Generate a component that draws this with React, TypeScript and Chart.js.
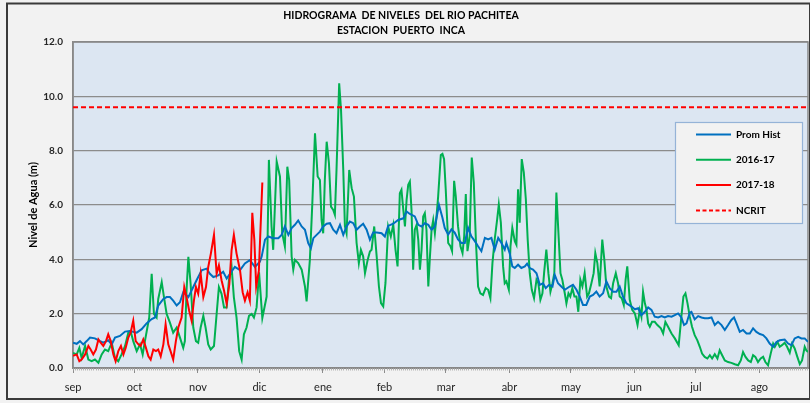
import { useEffect, useRef } from 'react';
import { Chart, registerables } from 'chart.js';

Chart.register(...registerables);

const chartTitle = ['HIDROGRAMA  DE NIVELES  DEL RIO PACHITEA', 'ESTACION  PUERTO  INCA'];
const yAxisTitle = 'Nivel de Agua (m)';
const monthTicks = [0, 30, 61, 91, 122, 152, 182, 213, 243, 274, 304, 335];
const monthLabels = ['sep', 'oct', 'nov', 'dic', 'ene', 'feb', 'mar', 'abr', 'may', 'jun', 'jul', 'ago'];
const lastDay = 358.7;
const ncritLevel = 9.6;

const promDays = [0,1.8,3.4,5,6.7,8.3,10.7,13.2,14.8,17.2,18.9,20.5,22.9,25.4,27.8,31.1,33.5,35.9,38.4,40,41.6,44.1,45.7,47.3,48.9,50.6,52.2,53.8,56.3,58.7,60.3,62.8,65.2,66.8,68.5,70.9,73.3,75,76.6,79,81.5,83.9,86.3,88.8,91.2,92.1,93.7,95.3,97.7,100.2,101.8,103.4,105.1,106.7,108.3,109.9,111.6,113.2,114.8,116.1,117.3,118.9,120.5,122.1,123.8,125.4,127,128.6,130.3,131.9,133.5,135.1,136.8,138.4,140,141.6,143.3,144.9,146.5,148.2,150.6,152.2,153.8,156.3,158.7,161.2,162.8,164.4,166.8,168.5,170.1,171.7,173.4,175,176.6,178.6,180.3,181.4,183.1,184.7,186.3,187.9,189.6,191.2,192.8,194.4,196.1,197.7,199.3,201,202.6,204.2,205.8,207.5,209.1,210.7,211.5,213.1,214.4,215.6,217.2,218.8,220.5,221.6,222.9,224.5,226.2,227.8,229.4,230.7,232.3,234,235.1,236.7,238.3,240,242.4,244,245.7,247.3,248.9,250.5,252.2,253.8,255.4,257,258.7,260.3,261.9,263.6,265.2,266.8,268.4,270.1,272.6,274.2,275.8,277.4,279.1,280.7,282.3,283.9,285.6,287.2,288.8,290.4,292.1,293.7,295.3,296.9,298.2,299.4,301,301.8,303.4,305.1,306.7,308.3,310,311.6,313.2,314.8,316.5,318.1,319.7,321.3,322.6,323.8,325.4,327,328.7,330.3,331.9,333.5,335.2,336.8,338.4,340,341.7,343.3,344.9,347.3,349,350.6,352.2,353.9,355.5,357.1,358.7];
const promVals = [0.93,0.89,0.99,0.87,0.99,1.12,1.09,0.99,0.93,1.02,0.87,1.12,1.18,1.34,1.36,1.30,1.43,1.64,1.80,1.86,2.30,2.54,2.61,2.61,2.48,2.30,2.42,2.79,2.61,2.98,3.23,3.60,3.66,3.47,3.35,3.41,3.54,3.29,3.47,3.72,3.60,3.85,3.97,3.72,3.91,4.11,4.72,4.84,4.78,4.78,4.90,5.21,4.90,5.15,5.27,5.43,5.21,5.09,4.60,4.41,4.78,4.90,5.02,5.21,5.31,5.33,5.09,4.96,5.27,4.90,5.21,5.39,5.33,5.09,5.21,5.31,5.09,4.72,4.99,4.99,4.96,4.84,5.23,5.31,5.45,5.51,5.76,5.67,5.58,5.27,5.21,5.33,5.27,5.09,5.21,6.00,5.53,5.16,4.91,5.10,4.98,4.73,4.60,4.60,5.16,4.85,4.67,4.48,4.30,4.79,4.73,4.79,4.36,4.79,4.60,4.36,4.60,4.23,3.74,3.68,3.80,3.68,3.74,3.84,3.68,3.62,3.49,3.06,3.12,2.94,3.06,3.00,3.43,3.12,3.00,2.88,3.00,3.06,2.88,2.63,2.32,2.32,2.63,2.69,2.81,2.63,2.75,3.19,2.94,2.81,2.81,3.00,2.63,2.38,2.26,2.16,2.20,1.95,2.07,2.23,2.14,1.89,1.86,1.91,1.86,1.91,1.89,1.95,2.01,1.86,1.58,1.64,2.04,2.07,1.79,1.91,1.86,1.83,1.83,1.86,1.58,1.70,1.58,1.40,1.58,1.77,1.86,1.64,1.33,1.40,1.27,1.27,1.46,1.33,1.25,1.21,1.09,0.90,0.78,0.96,1.02,1.05,0.90,0.84,1.09,1.15,1.09,1.09,0.96];

const s1617Days = [0,1.8,3.1,4.2,5.9,7.5,9.1,10.7,12.4,14,15.6,17.2,18.9,20.5,22.1,23.7,25.4,27,28.1,29.4,31.1,32.7,34,35.1,36.3,37.2,38.4,39.5,40.8,41.6,43.3,44.4,45.7,47.3,48.9,50.6,52.2,53.8,54.6,55.4,56.3,57.4,58.7,60,61.1,62.3,63.6,64.7,66,67.2,68.8,70.1,71.2,72.5,73.7,75,76.1,77.4,78.5,79.8,81.1,82.3,83.4,84.7,85.9,87.2,88.3,89.6,90.8,92.4,94.5,95.6,96.9,97.7,99.4,101,102.1,103.4,104.6,105.5,106.7,107.5,108.3,109.9,111.6,113.2,114,115.6,116.8,118.1,119.4,120.5,121.3,122.1,122.9,123.8,124.9,125.9,127,127.8,128.6,129.9,130.8,131.9,132.7,133.5,134.8,136,137.1,138.4,139.5,140.5,141.6,142.5,143.8,144.9,145.7,147,148.2,149.3,150.3,151.4,152.5,153.8,155.1,156.3,157.4,158.4,159.5,160.3,161.2,162,162.8,163.6,164.4,165.2,166,166.8,167.7,168.5,169.3,170.1,170.9,171.7,172.5,173.4,174.2,175,175.8,176.6,177.4,178.2,179.5,180.3,181.1,181.9,183.1,184.2,185,186,186.8,187.9,189.1,190.1,190.9,191.7,192.5,193.6,194.6,195.6,196.6,197.7,198.8,200.1,201.4,202.6,203.7,204.7,205.8,207,207.8,208.8,209.9,210.7,211.5,212.7,213.5,214.4,215.6,216.4,217.2,218,219,220,221,221.9,222.9,223.9,225,226.2,227.1,228.1,229.1,229.9,231,232,233,234,234.9,235.9,236.9,237.9,238.8,240,240.8,241.8,242.7,243.7,244.7,245.7,246.6,247.6,248.6,249.7,250.9,251.8,253,254.1,254.9,255.9,257,258.3,259.3,260.3,261.6,262.6,263.6,264.9,266,266.8,267.8,268.8,269.7,270.5,271.7,272.9,274.2,275.5,276.6,277.4,278.2,279.1,279.9,280.7,281.5,282.6,283.9,285.2,286.9,288,289.1,290.4,292.1,293.7,295.6,296.9,297.9,298.9,299.9,301,302.1,303.4,304.7,305.9,307,308.3,309.6,310.8,311.9,313.2,314.5,315.6,316.8,318.1,319.7,321.3,323,324.6,325.9,327,328.2,329.5,330.8,331.9,333,334.3,335.6,336.8,337.9,339.2,340.5,341.7,342.5,343.8,344.9,346,347.3,348.5,349.8,350.9,352.2,353.5,354.7,355.8,357.1,357.9,358.7];
const s1617Vals = [0.55,0.50,0.74,0.37,0.81,0.31,0.25,0.31,0.19,0.50,0.68,0.62,0.93,0.37,0.25,0.50,0.81,1.30,1.36,0.99,0.62,0.87,0.50,0.99,1.49,1.86,3.47,1.99,1.86,2.54,3.16,2.61,1.99,1.67,1.30,1.49,1.12,0.74,0.99,2.85,4.09,3.10,1.49,0.99,0.93,1.49,1.92,1.49,0.87,0.68,0.81,1.99,2.98,2.73,2.23,2.23,3.23,3.72,2.61,1.86,0.62,0.31,1.24,1.49,1.92,1.99,1.86,2.23,3.52,1.84,2.63,7.66,5.21,4.35,7.60,7.05,4.96,4.47,7.41,6.92,4.11,3.62,3.98,3.86,3.62,3.00,2.45,3.98,6.07,8.64,7.05,6.92,5.45,4.96,6.92,8.33,7.54,5.94,5.82,5.64,7.29,10.48,9.50,7.29,5.21,4.96,7.29,6.62,6.31,4.60,3.86,4.35,4.11,3.49,3.98,4.29,4.35,5.21,4.11,3.00,2.39,2.27,3.13,5.21,4.84,5.27,4.35,3.74,6.43,6.56,5.82,5.21,6.19,6.74,6.86,5.82,3.62,5.09,5.27,4.72,3.62,4.35,5.58,5.70,5.09,3.00,4.11,5.09,5.45,4.96,5.58,6.31,7.84,7.88,7.69,6.58,4.60,4.48,4.30,6.89,6.33,5.22,4.48,4.23,4.85,6.40,4.30,4.85,7.75,6.83,4.73,3.00,2.75,2.69,2.94,2.88,2.57,3.86,4.73,5.47,6.02,5.35,3.74,3.12,3.19,2.88,4.48,5.16,4.67,4.54,6.58,5.35,7.69,7.20,6.21,4.73,3.49,2.88,2.57,3.25,3.12,2.51,2.75,3.49,4.36,3.49,2.81,3.12,3.49,6.46,4.98,3.49,3.25,2.75,2.38,2.75,2.63,2.94,2.63,2.63,2.07,3.25,3.00,3.49,2.63,2.75,3.12,3.49,4.23,3.86,3.00,4.73,3.99,3.00,2.63,2.57,3.12,3.49,3.12,2.63,2.57,2.32,3.25,3.74,2.51,2.14,2.01,1.58,2.14,1.89,2.81,2.38,2.14,1.64,1.52,1.70,1.70,1.58,1.46,1.27,1.70,1.52,1.27,1.09,0.84,1.89,2.63,2.75,2.38,1.89,1.52,1.21,1.02,0.78,0.53,0.41,0.35,0.47,0.35,0.51,0.35,0.65,0.47,0.28,0.22,0.19,0.14,0.10,0.28,0.59,0.41,0.28,0.22,0.47,0.41,0.22,0.35,0.41,0.22,0.10,0.53,0.90,0.78,0.96,0.78,0.84,0.93,0.78,0.56,0.90,0.72,0.41,0.14,0.28,0.78,0.65,0.59];

const s1718Days = [0,1.8,3.1,4.2,5.9,7.5,8.6,9.9,11.2,12.4,13.5,14.8,16.1,17.2,18.4,19.7,20.8,22.1,23.4,24.6,25.7,27,28.1,29.4,30.6,31.9,33,34.3,35.6,36.8,37.9,39.2,40.5,41.6,42.8,44.1,45.2,46.5,47.6,48.9,50.2,51.4,53,54.3,55.4,56.7,57.9,59,60,61.1,62.3,63.6,64.9,66,67.3,68.8,70.1,71.2,72.5,73.7,75,76.3,77.4,78.5,79.8,81.5,82.8,83.9,85.2,86.3,87.5,88.5,89.4,90.7,92.4];
const s1718Vals = [0.45,0.50,0.25,0.31,0.50,0.81,0.68,0.50,0.68,1.05,0.93,0.81,0.99,1.24,0.99,0.50,0.25,0.62,0.81,0.50,0.74,1.12,1.30,1.74,0.99,0.87,0.81,1.05,0.74,0.43,0.31,0.68,0.62,0.68,0.43,0.87,1.61,0.87,0.62,0.31,0.99,1.49,1.86,2.98,2.61,2.11,1.74,2.48,2.98,2.73,3.47,2.61,2.98,3.72,4.22,4.90,3.47,3.78,3.23,2.85,2.36,3.10,4.34,4.90,4.22,3.60,2.79,2.48,2.79,2.48,5.71,4.71,3.00,3.57,6.83];

const seriesNames = ['Prom Hist', '2016-17', '2017-18', 'NCRIT'];
const seriesColors = ['#0070c0', '#00b050', '#ff0000', '#ff0000'];

const toPoints = (days: number[], vals: number[]) => days.map((d, i) => ({ x: d, y: vals[i] }));

const FONT = 'Lato, "Open Sans", "Liberation Sans", sans-serif';

const decorPlugin = {
  id: 'decor',
  beforeDraw(chart: any) {
    const { ctx, chartArea: a, width, height } = chart;
    ctx.save();
    ctx.fillStyle = '#f2f2f2';
    ctx.fillRect(0, 0, width, height);
    ctx.fillStyle = '#dce6f2';
    ctx.fillRect(a.left, a.top, a.right - a.left, a.bottom - a.top);
    ctx.strokeStyle = '#3a3a3a';
    ctx.lineWidth = 2;
    ctx.strokeRect(7, 3.5, 803, 395.5);
    ctx.fillStyle = '#000';
    ctx.font = `bold 10.5px ${FONT}`;
    ctx.textAlign = 'center';
    ctx.textBaseline = 'middle';
    ctx.fillText(chartTitle[0], 401, 16);
    ctx.fillText(chartTitle[1], 401, 31);
    ctx.restore();
  },
  beforeDatasetsDraw(chart: any) {
    const { ctx, chartArea: a, scales } = chart;
    ctx.save();
    ctx.strokeStyle = '#878787';
    ctx.lineWidth = 1.5;
    ctx.strokeRect(a.left, a.top, a.right - a.left, a.bottom - a.top);
    ctx.strokeStyle = '#a6a6a6';
    ctx.lineWidth = 0.8;
    ctx.beginPath();
    for (let d = 0; d <= lastDay; d += 1) {
      const x = Math.round(scales.x.getPixelForValue(d)) + 0.5;
      ctx.moveTo(x, a.bottom);
      ctx.lineTo(x, a.bottom + 2.5);
    }
    ctx.stroke();
    ctx.restore();
  },
  afterDraw(chart: any) {
    const { ctx } = chart;
    ctx.save();
    ctx.fillStyle = '#f2f2f2';
    ctx.fillRect(675.5, 122.5, 127, 101);
    ctx.strokeStyle = '#95b3d7';
    ctx.lineWidth = 1.2;
    ctx.strokeRect(675.5, 122.5, 127, 101);
    ctx.font = `bold 10px ${FONT}`;
    ctx.textAlign = 'left';
    ctx.textBaseline = 'middle';
    seriesNames.forEach((name, i) => {
      const y = 134.5 + i * 25.3;
      ctx.strokeStyle = seriesColors[i];
      ctx.lineWidth = 2;
      ctx.setLineDash(i === 3 ? [4, 2.5] : []);
      ctx.beginPath();
      ctx.moveTo(696, y);
      ctx.lineTo(731, y);
      ctx.stroke();
      ctx.setLineDash([]);
      ctx.fillStyle = '#000';
      ctx.fillText(name, 736, y);
    });
    ctx.restore();
  },
};

export default function App() {
  const ref = useRef<HTMLCanvasElement>(null);
  useEffect(() => {
    document.body.style.margin = '0';
    Chart.defaults.font.family = FONT;
    const chart = new Chart(ref.current!, {
      type: 'line',
      data: {
        datasets: [
          { label: seriesNames[0], data: toPoints(promDays, promVals), borderColor: seriesColors[0], borderWidth: 2, pointRadius: 0, tension: 0, order: 2 },
          { label: seriesNames[1], data: toPoints(s1617Days, s1617Vals), borderColor: seriesColors[1], borderWidth: 2, pointRadius: 0, tension: 0, order: 3 },
          { label: seriesNames[2], data: toPoints(s1718Days, s1718Vals), borderColor: seriesColors[2], borderWidth: 2, pointRadius: 0, tension: 0, order: 1 },
          { label: seriesNames[3], data: [{ x: 0, y: ncritLevel }, { x: lastDay, y: ncritLevel }], borderColor: seriesColors[3], borderWidth: 2, borderDash: [5, 3], pointRadius: 0, order: 0 },
        ],
      },
      options: {
        responsive: false,
        devicePixelRatio: 1,
        animation: false,
        layout: { padding: { top: 42, right: 2, left: 0, bottom: 0 } },
        plugins: { legend: { display: false }, tooltip: { enabled: false }, title: { display: false } },
        scales: {
          x: {
            type: 'linear',
            min: 0,
            max: lastDay,
            afterBuildTicks: (s: any) => { s.ticks = monthTicks.map((v) => ({ value: v })); },
            afterFit: (s: any) => { s.height = 35; },
            ticks: {
              autoSkip: false,
              maxRotation: 0,
              padding: 8,
              color: '#262626',
              font: { size: 11 },
              callback: (v: any) => monthLabels[monthTicks.indexOf(Number(v))] ?? '',
            },
            grid: { drawOnChartArea: false, drawTicks: true, tickLength: 5, color: '#8c8c8c', lineWidth: 1 },
            border: { color: '#8c8c8c', width: 2 },
          },
          y: {
            min: 0,
            max: 12,
            afterFit: (s: any) => { s.width = 73; },
            ticks: { stepSize: 2, padding: 10, color: '#262626', font: { size: 10, weight: 'bold' }, callback: (v: any) => Number(v).toFixed(1) },
            grid: { color: '#8c8c8c', lineWidth: 1.3, drawTicks: false },
            border: { color: '#8c8c8c', width: 1.5 },
            title: { display: true, text: yAxisTitle, color: '#000', font: { size: 11, weight: 'bold' }, padding: { top: 27, bottom: 0 } },
          },
        },
      },
      plugins: [decorPlugin],
    } as any);
    return () => chart.destroy();
  }, []);
  return (
    <div style={{ width: 810, height: 403 }}>
      <canvas ref={ref} width={810} height={403} style={{ display: 'block' }} />
    </div>
  );
}
